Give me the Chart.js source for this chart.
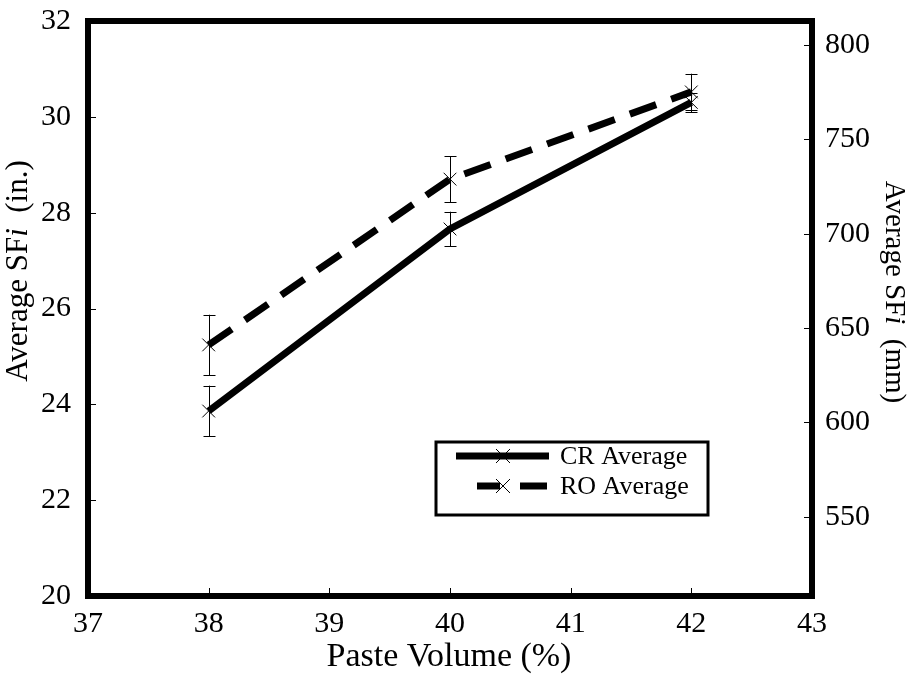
<!DOCTYPE html>
<html>
<head>
<meta charset="utf-8">
<script src="https://cdn.jsdelivr.net/npm/chart.js@4/dist/chart.umd.min.js"></script>
<style>
  html, body { margin: 0; padding: 0; background: #fff; }
  #wrap { width: 912px; height: 686px; }
</style>
</head>
<body>
<div id="wrap"><canvas id="sfChart"></canvas></div>
<script>
// Paste volume vs average slump flow, CR and RO mixes
const pasteVolume = [38, 40, 42];
const crAverage = [23.86, 27.66, 30.30];
const crError = [0.53, 0.36, 0.20];
const roAverage = [25.24, 28.70, 30.52];
const roError = [0.63, 0.48, 0.38];
const xTicks = [37, 38, 39, 40, 41, 42, 43];
const inTicks = [20, 22, 24, 26, 28, 30, 32];
const mmTicks = [550, 600, 650, 700, 750, 800];

const FONT = "'Liberation Serif', 'Times New Roman', serif";

function toPoints(xs, ys) {
  return xs.map((x, i) => ({ x: x, y: ys[i] }));
}

const framePlugin = {
  id: 'framePlugin',
  afterDatasetsDraw(chart) {
    const ctx = chart.ctx;
    const x = chart.scales.x, y = chart.scales.y;
    ctx.save();
    ctx.strokeStyle = '#000';
    ctx.lineWidth = 1;
    chart.data.datasets.forEach(ds => {
      ds.data.forEach((p, i) => {
        const e = ds.errors[i];
        const px = Math.round(x.getPixelForValue(p.x)) + 0.5;
        const top = y.getPixelForValue(p.y + e);
        const bot = y.getPixelForValue(p.y - e);
        ctx.beginPath();
        ctx.moveTo(px, top); ctx.lineTo(px, bot);
        ctx.moveTo(px - 6, Math.round(top) + 0.5); ctx.lineTo(px + 6, Math.round(top) + 0.5);
        ctx.moveTo(px - 6, Math.round(bot) + 0.5); ctx.lineTo(px + 6, Math.round(bot) + 0.5);
        ctx.stroke();
      });
    });
    ctx.restore();
  },
  afterDraw(chart) {
    const ctx = chart.ctx;
    const a = chart.chartArea;
    const x = chart.scales.x, y = chart.scales.y, y2 = chart.scales.y2;
    ctx.save();
    // inner ticks
    ctx.strokeStyle = '#000';
    ctx.lineWidth = 1;
    ctx.beginPath();
    xTicks.forEach(v => {
      const px = Math.round(x.getPixelForValue(v)) + 0.5;
      ctx.moveTo(px, a.bottom); ctx.lineTo(px, a.bottom - 8);
    });
    inTicks.forEach(v => {
      const py = Math.round(y.getPixelForValue(v)) + 0.5;
      ctx.moveTo(a.left, py); ctx.lineTo(a.left + 8, py);
    });
    mmTicks.forEach(v => {
      const py = Math.round(y2.getPixelForValue(v)) + 0.5;
      ctx.moveTo(a.right, py); ctx.lineTo(a.right - 8, py);
    });
    ctx.stroke();
    // frame
    ctx.lineWidth = 6;
    ctx.strokeRect(a.left, a.top, a.right - a.left, a.bottom - a.top);

    // axis titles
    ctx.fillStyle = '#000';
    ctx.textBaseline = 'middle';
    ctx.textAlign = 'center';
    ctx.font = '34px ' + FONT;
    ctx.fillText('Paste Volume (%)', 449, 657);

    function mixedTitle(cx, cy, rot, size, parts) {
      ctx.save();
      ctx.translate(cx, cy);
      ctx.rotate(rot);
      ctx.textAlign = 'left';
      let w = 0;
      parts.forEach(p => { ctx.font = p[1] + size + 'px ' + FONT; w += ctx.measureText(p[0]).width; });
      let pos = -w / 2;
      parts.forEach(p => {
        ctx.font = p[1] + size + 'px ' + FONT;
        ctx.fillText(p[0], pos, 0);
        pos += ctx.measureText(p[0]).width;
      });
      ctx.restore();
    }
    mixedTitle(19, 271, -Math.PI / 2, 31, [['Average SF', ''], ['i', 'italic '], ['  (in.)', '']]);
    mixedTitle(894, 292, Math.PI / 2, 29, [['Average SF', ''], ['i', 'italic '], ['  (mm)', '']]);

    // legend
    ctx.lineWidth = 3;
    ctx.strokeRect(436, 442, 272, 73);
    const rows = [
      { ds: chart.data.datasets[0], y: 456 },
      { ds: chart.data.datasets[1], y: 486 }
    ];
    rows.forEach((r, i) => {
      ctx.strokeStyle = '#000';
      ctx.lineWidth = r.ds.borderWidth;
      ctx.lineCap = 'butt';
      ctx.beginPath();
      if (i === 0) {
        ctx.moveTo(456, r.y); ctx.lineTo(549, r.y);
      } else {
        ctx.moveTo(477, r.y); ctx.lineTo(500, r.y);
        ctx.moveTo(520, r.y); ctx.lineTo(547, r.y);
      }
      ctx.stroke();
      ctx.lineWidth = 1;
      ctx.beginPath();
      const m = 7;
      ctx.moveTo(503 - m, r.y - m); ctx.lineTo(503 + m, r.y + m);
      ctx.moveTo(503 - m, r.y + m); ctx.lineTo(503 + m, r.y - m);
      ctx.stroke();
      ctx.font = '26px ' + FONT;
      ctx.textAlign = 'left';
      ctx.fillText(r.ds.label, 560, r.y + 1);
    });
    ctx.restore();
  }
};

new Chart(document.getElementById('sfChart'), {
  type: 'line',
  data: {
    datasets: [
      {
        label: 'CR Average',
        data: toPoints(pasteVolume, crAverage),
        errors: crError,
        borderColor: '#000',
        borderWidth: 7,
        pointStyle: 'crossRot',
        pointRadius: 9,
        pointBorderWidth: 1,
        pointBorderColor: '#000',
        fill: false,
        tension: 0
      },
      {
        label: 'RO Average',
        data: toPoints(pasteVolume, roAverage),
        errors: roError,
        borderColor: '#000',
        borderWidth: 7,
        borderDash: [28, 16],
        pointStyle: 'crossRot',
        pointRadius: 9,
        pointBorderWidth: 1,
        pointBorderColor: '#000',
        fill: false,
        tension: 0
      }
    ]
  },
  options: {
    responsive: true,
    maintainAspectRatio: false,
    animation: false,
    layout: { padding: { top: 21, left: 0, right: 0, bottom: 0 } },
    plugins: { legend: { display: false }, tooltip: { enabled: false } },
    scales: {
      x: {
        type: 'linear',
        min: 37, max: 43,
        afterBuildTicks: s => { s.ticks = xTicks.map(v => ({ value: v })); },
        afterFit: s => { s.height = 90; },
        grid: { display: false },
        border: { display: false },
        ticks: { color: '#000', padding: 2, maxRotation: 0, font: { family: FONT, size: 30 } }
      },
      y: {
        type: 'linear',
        position: 'left',
        min: 20, max: 32,
        afterBuildTicks: s => { s.ticks = inTicks.map(v => ({ value: v })); },
        afterFit: s => { s.width = 88; },
        grid: { display: false },
        border: { display: false },
        ticks: { color: '#000', padding: 9, font: { family: FONT, size: 30, lineHeight: 0.6 } }
      },
      y2: {
        type: 'linear',
        position: 'right',
        min: 508, max: 812.8,
        afterBuildTicks: s => { s.ticks = mmTicks.map(v => ({ value: v })); },
        afterFit: s => { s.width = 100; },
        grid: { display: false },
        border: { display: false },
        ticks: { color: '#000', padding: 5, font: { family: FONT, size: 30, lineHeight: 0.6 } }
      }
    }
  },
  plugins: [framePlugin]
});
</script>
</body>
</html>
